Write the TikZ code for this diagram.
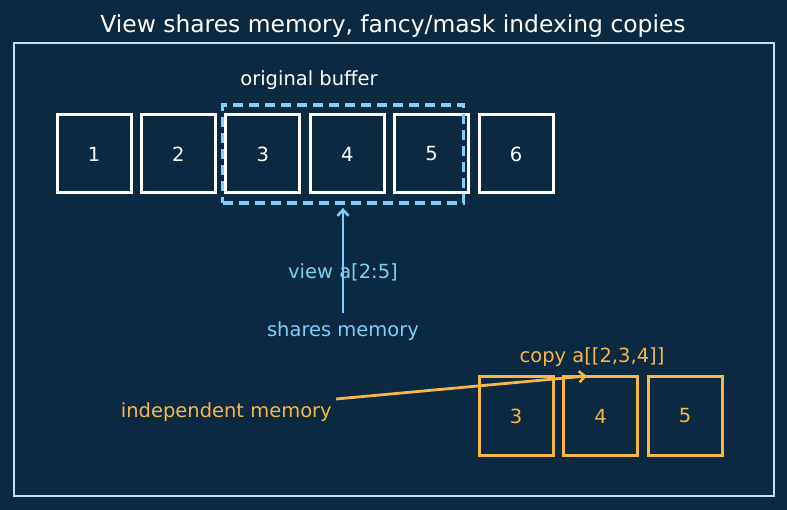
\documentclass[tikz,border=0pt]{standalone}
\usepackage{fontspec}
\setmainfont{DejaVu Sans}
\usetikzlibrary{arrows.meta,positioning}

\definecolor{bgnavy}{RGB}{11,41,64}
\definecolor{framec}{RGB}{200,222,238}
\definecolor{viewc}{RGB}{125,206,250}
\definecolor{copyc}{RGB}{246,182,72}

\newcommand{\lblfont}{\fontsize{19.5}{23}\selectfont}
\newcommand{\ttlfont}{\fontsize{23.4}{27}\selectfont}

\tikzset{
  cell/.style={draw=white,line width=3pt,minimum width=74pt,minimum height=78pt,inner sep=0pt,text=white,font=\lblfont},
  copycell/.style={cell,draw=copyc,text=copyc},
  viewbox/.style={draw=viewc,line width=3.8pt,dash pattern=on 10pt off 6pt,minimum width=241pt,minimum height=98pt,inner sep=0pt},
  lbl/.style={font=\lblfont,inner sep=0pt},
  barb/.style={-{Straight Barb[length=6pt,width=11pt,line width=2.6pt]}},
}

\begin{document}
\begin{tikzpicture}[x=1pt,y=-1pt]
    \fill[bgnavy] (0,0) rectangle (787,510);
    \useasboundingbox (0,0) rectangle (787,510);
    % title and frame
    \node[font=\ttlfont,text=white,inner sep=0pt] (title) at (393,26) {View shares memory, fancy/mask indexing copies};
    \draw[framec,line width=2.2pt] (14,43) rectangle (774,496);

    % original buffer
    \node[lbl,text=white] (buflabel) at (309,80) {original buffer};
    \foreach \v in {1,...,6}
        \node[cell] (b\v) at ({94+84.4*(\v-1)},154) {\v};

    % view a[2:5]
    \node[viewbox] (view) at (343,154) {};
    \node[lbl,text=viewc] (viewlabel) at (343,272) {view a[2:5]};
    \coordinate (viewtail) at (343,313);
    \draw[viewc,line width=2.6pt,barb,shorten >=3pt] (viewtail) -- (view.south);
    \node[lbl,text=viewc] (sharelabel) at (343,331) {shares memory};

    % copy a[[2,3,4]]
    \node[lbl,text=copyc] (copylabel) at (592,357) {copy a[[2,3,4]]};
    \foreach \v [count=\i] in {3,4,5}
        \node[copycell] (c\v) at ({516+84.5*(\i-1)},416) {\v};
    \node[lbl,text=copyc,anchor=east,inner sep=4pt] (indep) at (336,412) {independent memory};
    \coordinate (copytip) at (587,376);
    \draw[copyc,line width=2.8pt,barb] ([yshift=13pt]indep.east) -- (copytip);
\end{tikzpicture}
\end{document}
